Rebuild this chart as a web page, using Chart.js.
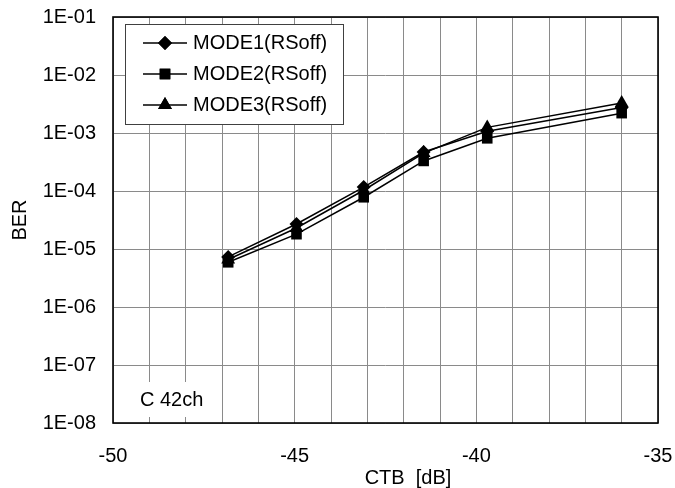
<!DOCTYPE html>
<html><head><meta charset="utf-8">
<script src="https://cdn.jsdelivr.net/npm/chart.js@4/dist/chart.umd.min.js"></script>
<style>html,body{margin:0;padding:0;background:#fff}canvas{display:block}</style>
</head><body>
<canvas id="c" width="675" height="488"></canvas>
<script>
// ---- data ----
const ctbValues = [-46.83, -44.95, -43.1, -41.45, -39.7, -36.0];
const mode1Ber = [7.3e-6, 2.7e-5, 1.17e-4, 4.7e-4, 1.07e-3, 2.75e-3];
const mode2Ber = [5.9e-6, 1.8e-5, 7.8e-5, 3.3e-4, 8.1e-4, 2.2e-3];
const mode3Ber = [6.6e-6, 2.3e-5, 1.03e-4, 4.5e-4, 1.25e-3, 3.3e-3];
const seriesNames = ['MODE1(RSoff)', 'MODE2(RSoff)', 'MODE3(RSoff)'];
const xGridValues = [-50,-49,-48,-47,-46,-45,-44,-43,-42,-41,-40,-39,-38,-37,-36,-35];
const xLabelValues = [-50, -45, -40, -35];
const yTickValues = [1e-8, 1e-7, 1e-6, 1e-5, 1e-4, 1e-3, 1e-2, 1e-1];
const yTickLabels = ['1E-08','1E-07','1E-06','1E-05','1E-04','1E-03','1E-02','1E-01'];
const xTitle = 'CTB  [dB]';
const yTitle = 'BER';
const noteText = 'C 42ch';

const FONT = '"Liberation Sans", Arial, sans-serif';
const markerStyles = ['rectRot', 'rect', 'triangle'];
const markerRadius = [7, 7.5, 8];

function pts(ys) { return ctbValues.map((x, i) => ({x: x, y: ys[i]})); }

const datasets = [mode1Ber, mode2Ber, mode3Ber].map((ys, i) => ({
  label: seriesNames[i],
  data: pts(ys),
  borderColor: '#000',
  backgroundColor: '#000',
  borderWidth: 1.5,
  pointStyle: markerStyles[i],
  pointRadius: markerRadius[i],
  pointBorderWidth: 0,
  pointBackgroundColor: '#000',
  tension: 0,
  fill: false
}));

const overlay = {
  id: 'overlay',
  afterDatasetsDraw(chart) {
    const ctx = chart.ctx, a = chart.chartArea;
    ctx.save();
    // note box
    ctx.fillStyle = '#fff';
    ctx.fillRect(128, 382, 88, 35);
    ctx.fillStyle = '#000';
    ctx.font = '20px ' + FONT;
    ctx.textAlign = 'left';
    ctx.textBaseline = 'middle';
    ctx.fillText(noteText, 140, 400);
    // plot border
    ctx.strokeStyle = '#000';
    ctx.lineWidth = 1.6;
    ctx.strokeRect(a.left, a.top, a.right - a.left, a.bottom - a.top);
    // legend
    ctx.fillStyle = '#fff';
    ctx.fillRect(125, 24, 218, 100);
    ctx.strokeStyle = '#404040';
    ctx.lineWidth = 1;
    ctx.strokeRect(125.5, 24.5, 218, 100);
    chart.data.datasets.forEach((ds, i) => {
      const y = 43 + i * 31;
      ctx.strokeStyle = '#000';
      ctx.lineWidth = 1.5;
      ctx.beginPath(); ctx.moveTo(143, y); ctx.lineTo(187, y); ctx.stroke();
      ctx.fillStyle = '#000';
      Chart.helpers.drawPoint(ctx, {pointStyle: ds.pointStyle, radius: ds.pointRadius, rotation: 0, borderWidth: 0}, 165, y);
      ctx.fill();
      ctx.fillStyle = '#000';
      ctx.font = '20px ' + FONT;
      ctx.textAlign = 'left';
      ctx.textBaseline = 'middle';
      ctx.fillText(ds.label, 193, y);
    });
    // x title
    ctx.fillStyle = '#000';
    ctx.font = '20px ' + FONT;
    ctx.textAlign = 'center';
    ctx.textBaseline = 'middle';
    ctx.fillText(xTitle, 408, 478);
    ctx.restore();
  }
};

new Chart(document.getElementById('c'), {
  type: 'line',
  data: { datasets: datasets },
  options: {
    responsive: false,
    animation: false,
    devicePixelRatio: 1,
    layout: { padding: { top: 17, right: 17, left: 0, bottom: 0 } },
    plugins: { legend: { display: false }, tooltip: { enabled: false } },
    scales: {
      x: {
        type: 'linear',
        min: -50, max: -35,
        afterBuildTicks: s => { s.ticks = xGridValues.map(v => ({value: v})); },
        afterFit: s => { s.height = 65; s.paddingLeft = 0; s.paddingRight = 0; },
        grid: { color: '#8a8a8a', lineWidth: 1, drawTicks: false },
        border: { display: false },
        ticks: {
          autoSkip: false, maxRotation: 0, padding: 21, color: '#000',
          font: { family: FONT, size: 20 },
          callback: v => xLabelValues.includes(v) ? String(v) : ''
        }
      },
      y: {
        type: 'logarithmic',
        min: 1e-8, max: 1e-1,
        afterBuildTicks: s => { s.ticks = yTickValues.map(v => ({value: v})); },
        afterFit: s => { s.width = 113; s.paddingTop = 0; s.paddingBottom = 0; },
        grid: { color: '#8a8a8a', lineWidth: 1, drawTicks: false },
        border: { display: false },
        ticks: {
          autoSkip: false, padding: 17, color: '#000',
          font: { family: FONT, size: 20 },
          callback: v => { const i = yTickValues.findIndex(t => Math.abs(Math.log10(t) - Math.log10(v)) < 1e-6); return i >= 0 ? yTickLabels[i] : ''; }
        },
        title: { display: true, text: yTitle, color: '#000', font: { family: FONT, size: 20 }, padding: { top: 8, bottom: 0 } }
      }
    }
  },
  plugins: [overlay]
});
</script>
</body></html>
